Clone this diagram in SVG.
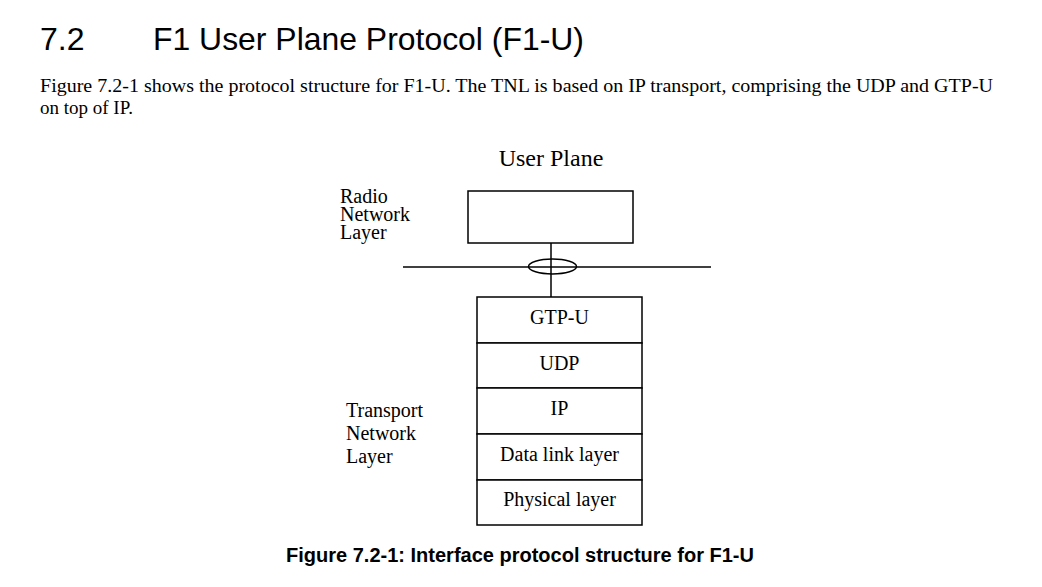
<svg xmlns="http://www.w3.org/2000/svg" width="1042" height="587" viewBox="0 0 1042 587">
<style>
.h{font-family:"Liberation Sans",Arial,sans-serif;font-size:32px;fill:#000}
.p{font-family:"Liberation Serif","Times New Roman",serif;font-size:19px;fill:#000}
.l{font-family:"Liberation Serif","Times New Roman",serif;font-size:20px;fill:#000}
.t{font-family:"Liberation Serif","Times New Roman",serif;font-size:24px;fill:#000}
.c{font-family:"Liberation Sans",Arial,sans-serif;font-size:20px;font-weight:bold;fill:#000}
.b{fill:#fff;stroke:#000;stroke-width:1.5}
.ln{stroke:#000;stroke-width:1.5;fill:none}
</style>
<rect width="1042" height="587" fill="#fff"/>
<text class="h" x="40" y="50">7.2</text>
<text class="h" x="153" y="50" textLength="431" lengthAdjust="spacingAndGlyphs">F1 User Plane Protocol (F1-U)</text>
<text class="p" x="40" y="92" textLength="953" lengthAdjust="spacingAndGlyphs">Figure 7.2-1 shows the protocol structure for F1-U. The TNL is based on IP transport, comprising the UDP and GTP-U</text>
<text class="p" x="40" y="114">on top of IP.</text>
<text class="t" x="551" y="166" text-anchor="middle">User Plane</text>
<g id="rnl-label">
<text class="l" x="340" y="203">Radio</text>
<text class="l" x="340" y="221">Network</text>
<text class="l" x="340" y="239">Layer</text>
</g>
<g id="tnl-label">
<text class="l" x="346" y="417">Transport</text>
<text class="l" x="346" y="440">Network</text>
<text class="l" x="346" y="463">Layer</text>
</g>
<g id="connectors">
<line class="ln" x1="403" y1="267" x2="711" y2="267"/>
<ellipse class="ln" cx="552.5" cy="266.5" rx="24" ry="7.5"/>
<line class="ln" x1="551" y1="243" x2="551" y2="297"/>
</g>
<g id="rnl-box"><rect class="b" x="468" y="191" width="165" height="52"/></g>
<g id="gtpu"><rect class="b" x="477" y="297" width="165" height="46"/><text class="l" x="559.5" y="324" text-anchor="middle">GTP-U</text></g>
<g id="udp"><rect class="b" x="477" y="343" width="165" height="45"/><text class="l" x="559.5" y="370" text-anchor="middle">UDP</text></g>
<g id="ip"><rect class="b" x="477" y="388" width="165" height="46"/><text class="l" x="559.5" y="415" text-anchor="middle">IP</text></g>
<g id="dll"><rect class="b" x="477" y="434" width="165" height="46"/><text class="l" x="559.5" y="461" text-anchor="middle">Data link layer</text></g>
<g id="phy"><rect class="b" x="477" y="480" width="165" height="45"/><text class="l" x="559.5" y="506" text-anchor="middle">Physical layer</text></g>
<text class="c" x="520" y="562" text-anchor="middle">Figure 7.2-1: Interface protocol structure for F1-U</text>
</svg>
